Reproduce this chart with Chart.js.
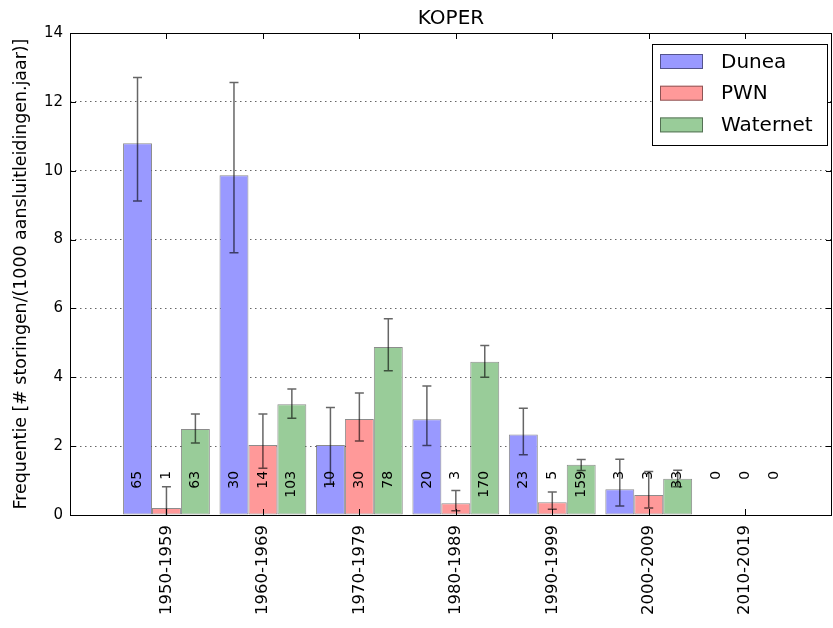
<!DOCTYPE html>
<html>
<head>
<meta charset="utf-8">
<script src="https://cdn.jsdelivr.net/npm/chart.js@4/dist/chart.umd.min.js"></script>
<style>
  body { margin: 0; background: #fff; }
  #wrap { width: 833px; height: 628px; }
</style>
</head>
<body>
<div id="wrap"><canvas id="koperChart" width="833" height="628"></canvas></div>
<script>
// data
var categories = ['1950-1959', '1960-1969', '1970-1979', '1980-1989', '1990-1999', '2000-2009', '2010-2019'];
var seriesNames = ['Dunea', 'PWN', 'Waternet'];

var dunea    = [10.8, 9.87, 2.03, 2.78, 2.34, 0.75, 0];
var pwn      = [0.2, 2.03, 2.79, 0.34, 0.37, 0.58, 0];
var waternet = [2.5, 3.22, 4.88, 4.45, 1.46, 1.05, 0];

var duneaLow     = [9.12, 7.62, 0.9, 2.02, 1.75, 0.26, null];
var duneaHigh    = [12.71, 12.56, 3.12, 3.75, 3.1, 1.62, null];
var pwnLow       = [-0.42, 1.36, 2.15, 0.12, 0.17, 0.2, null];
var pwnHigh      = [0.82, 2.93, 3.54, 0.71, 0.67, 1.26, null];
var waternetLow  = [2.09, 2.81, 4.19, 4.0, 1.29, 0.82, null];
var waternetHigh = [2.93, 3.66, 5.7, 4.92, 1.61, 1.3, null];

var duneaCount    = [65, 30, 10, 20, 23, 3, 0];
var pwnCount      = [1, 14, 30, 3, 5, 3, 0];
var waternetCount = [63, 103, 78, 170, 159, 33, 0];

var yTicks = [0, 2, 4, 6, 8, 10, 12, 14];

var FONT = "'DejaVu Sans', sans-serif";
var lows = [duneaLow, pwnLow, waternetLow];
var highs = [duneaHigh, pwnHigh, waternetHigh];
var counts = [duneaCount, pwnCount, waternetCount];

function toPoints(arr) {
    return arr.map(function (v, i) { return { x: i, y: v }; });
}

var extras = {
    id: 'extras',
    afterDatasetsDraw: function (chart) {
        var ctx = chart.ctx, area = chart.chartArea;
        var y = chart.scales.y;
        ctx.save();
        ctx.beginPath();
        ctx.rect(area.left, area.top, area.right - area.left, area.bottom - area.top);
        ctx.clip();
        // error bars
        ctx.strokeStyle = 'rgba(0,0,0,0.6)';
        ctx.lineWidth = 1.5;
        for (var d = 0; d < 3; d++) {
            var meta = chart.getDatasetMeta(d);
            meta.data.forEach(function (bar, i) {
                if (lows[d][i] === null) return;
                var x = bar.x;
                var y1 = y.getPixelForValue(lows[d][i]);
                var y2 = y.getPixelForValue(highs[d][i]);
                ctx.beginPath();
                ctx.moveTo(x, y1); ctx.lineTo(x, y2);
                ctx.moveTo(x - 4.5, y1); ctx.lineTo(x + 4.5, y1);
                ctx.moveTo(x - 4.5, y2); ctx.lineTo(x + 4.5, y2);
                ctx.stroke();
            });
        }
        ctx.restore();

        // counts, rotated
        ctx.save();
        ctx.fillStyle = '#000';
        ctx.font = '14px ' + FONT;
        ctx.textAlign = 'right';
        ctx.textBaseline = 'middle';
        var ty = y.getPixelForValue(1.28);
        for (var d2 = 0; d2 < 3; d2++) {
            chart.getDatasetMeta(d2).data.forEach(function (bar, i) {
                ctx.save();
                ctx.translate(bar.x, ty);
                ctx.rotate(-Math.PI / 2);
                ctx.fillText(String(counts[d2][i]), 0, 0);
                ctx.restore();
            });
        }
        ctx.restore();
    },
    afterDraw: function (chart) {
        var ctx = chart.ctx, area = chart.chartArea;
        var x = chart.scales.x, y = chart.scales.y;
        ctx.save();
        ctx.strokeStyle = '#000';
        ctx.lineWidth = 1;
        ctx.strokeRect(area.left + 0.5, area.top + 0.5, area.right - area.left - 1, area.bottom - area.top);
        // inward ticks
        ctx.beginPath();
        yTicks.forEach(function (v) {
            var py = Math.round(y.getPixelForValue(v)) + 0.5;
            ctx.moveTo(area.left, py); ctx.lineTo(area.left + 6, py);
            ctx.moveTo(area.right, py); ctx.lineTo(area.right - 6, py);
        });
        categories.forEach(function (c, i) {
            var px = Math.round(x.getPixelForValue(i)) + 0.5;
            ctx.moveTo(px, area.bottom); ctx.lineTo(px, area.bottom - 6);
            ctx.moveTo(px, area.top); ctx.lineTo(px, area.top + 6);
        });
        ctx.stroke();

        // legend
        var lx = 652, ly = 44, lw = 175, lh = 101;
        ctx.fillStyle = '#fff';
        ctx.fillRect(lx, ly, lw, lh);
        ctx.strokeRect(lx + 0.5, ly + 0.5, lw, lh);
        ctx.font = '20px ' + FONT;
        ctx.textAlign = 'left';
        ctx.textBaseline = 'middle';
        chart.data.datasets.forEach(function (ds, k) {
            var cy = 61.5 + k * 31.7;
            ctx.fillStyle = ds.backgroundColor;
            ctx.fillRect(660, cy - 7.5, 43, 15);
            ctx.strokeStyle = ds.borderColor;
            ctx.strokeRect(660.5, cy - 7, 42, 14);
            ctx.fillStyle = '#000';
            ctx.fillText(ds.label, 721, cy + 1);
        });
        ctx.restore();
    }
};

var ctx = document.getElementById('koperChart').getContext('2d');
var koperChart = new Chart(ctx, {
    type: 'bar',
    data: {
        datasets: [{
            label: seriesNames[0],
            data: toPoints(dunea),
            backgroundColor: 'rgb(153,153,255)',
            borderColor: 'rgba(0,0,0,0.45)',
            borderWidth: 1,
            borderSkipped: false
        }, {
            label: seriesNames[1],
            data: toPoints(pwn),
            backgroundColor: 'rgb(255,153,153)',
            borderColor: 'rgba(0,0,0,0.45)',
            borderWidth: 1,
            borderSkipped: false
        }, {
            label: seriesNames[2],
            data: toPoints(waternet),
            backgroundColor: 'rgb(153,204,153)',
            borderColor: 'rgba(0,0,0,0.45)',
            borderWidth: 1,
            borderSkipped: false
        }]
    },
    options: {
        responsive: false,
        animation: false,
        categoryPercentage: 0.9,
        barPercentage: 1.0,
        layout: { padding: { left: 0, right: 1, top: 0, bottom: 0 } },
        plugins: {
            legend: { display: false },
            tooltip: { enabled: false },
            title: {
                display: true,
                text: 'KOPER',
                color: '#000',
                fullSize: false,
                font: { family: FONT, size: 20, weight: 'normal' },
                padding: { top: 7, bottom: 2 }
            }
        },
        scales: {
            x: {
                type: 'linear',
                offset: false,
                min: -1,
                max: 6.9,
                afterBuildTicks: function (scale) {
                    scale.ticks = categories.map(function (c, i) { return { value: i }; });
                },
                afterFit: function (scale) { scale.height = 113; },
                grid: { display: false, drawTicks: false },
                border: { display: false },
                ticks: {
                    autoSkip: false,
                    minRotation: 90,
                    maxRotation: 90,
                    padding: 10,
                    color: '#000',
                    font: { family: FONT, size: 16.5 },
                    callback: function (v) { return categories[v]; }
                }
            },
            y: {
                min: 0,
                max: 14,
                afterBuildTicks: function (scale) {
                    scale.ticks = yTicks.map(function (v) { return { value: v }; });
                },
                afterFit: function (scale) { scale.width = 70; },
                grid: {
                    color: 'rgba(0,0,0,0.6)',
                    lineWidth: 1,
                    drawTicks: false
                },
                border: { display: false, dash: [1.5, 3.5] },
                ticks: {
                    padding: 7,
                    color: '#000',
                    font: { family: FONT, size: 15 }
                },
                title: {
                    display: true,
                    text: 'Frequentie [# storingen/(1000 aansluitleidingen.jaar)]',
                    color: '#000',
                    font: { family: FONT, size: 17.4 },
                    padding: { top: 11, bottom: 0 }
                }
            }
        }
    },
    plugins: [extras]
});
</script>
</body>
</html>
